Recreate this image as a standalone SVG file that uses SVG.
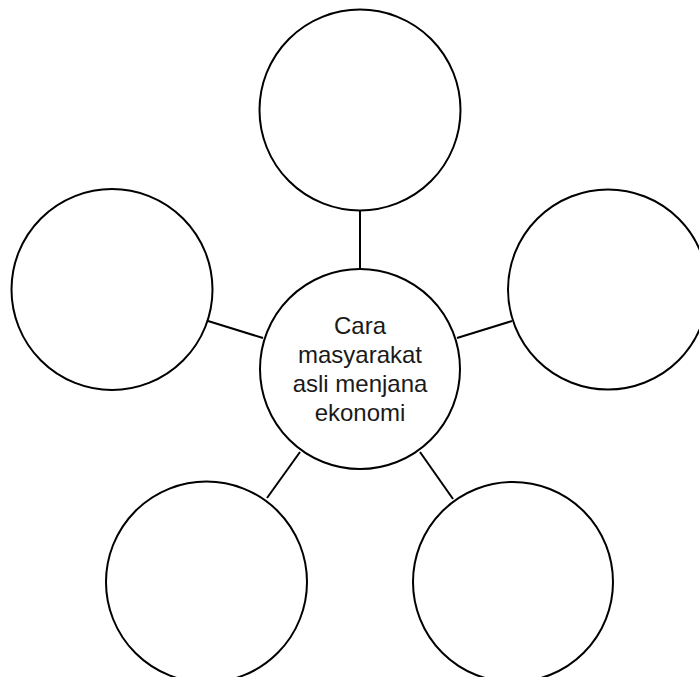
<svg xmlns="http://www.w3.org/2000/svg" width="699" height="677" viewBox="0 0 699 677">
<style>
.n{fill:#fff;stroke:#000;stroke-width:2}
.c line{stroke:#000;stroke-width:2}
.t{font-family:"Liberation Sans",Arial,sans-serif;font-size:24px;fill:#1a1a1a;text-anchor:middle}
</style>
<rect width="699" height="677" fill="#fff"/>
<g class="c" id="connectors">
<line x1="360" y1="210" x2="360" y2="269"/>
<line x1="208" y1="321" x2="263" y2="338"/>
<line x1="512" y1="321" x2="457" y2="338"/>
<line x1="267" y1="498" x2="300" y2="452"/>
<line x1="453" y1="499" x2="420" y2="452"/>
</g>
<g id="node-top"><circle class="n" cx="360" cy="110" r="100.5"/></g>
<g id="node-left"><circle class="n" cx="112" cy="289.5" r="100.5"/></g>
<g id="node-right"><circle class="n" cx="608" cy="289.5" r="100"/></g>
<g id="node-bottom-left"><circle class="n" cx="206.5" cy="582" r="100.5"/></g>
<g id="node-bottom-right"><circle class="n" cx="513" cy="582" r="100"/></g>
<g id="node-center">
<circle class="n" cx="360" cy="369" r="100"/>
<text class="t" x="360" y="334">Cara</text>
<text class="t" x="360" y="363">masyarakat</text>
<text class="t" x="360" y="392">asli menjana</text>
<text class="t" x="360" y="421">ekonomi</text>
</g>
</svg>
